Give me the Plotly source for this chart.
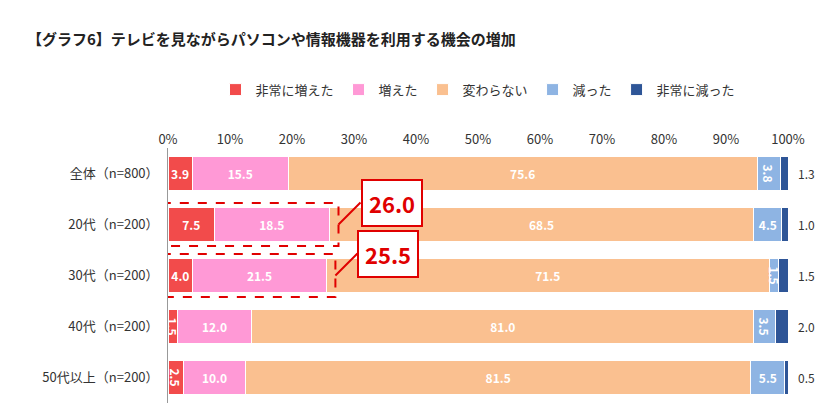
import plotly.graph_objects as go

categories = ["全体（n=800）", "20代（n=200）", "30代（n=200）", "40代（n=200）", "50代以上（n=200）"]
series_names = ["非常に増えた", "増えた", "変わらない", "減った", "非常に減った"]
very_inc = [3.9, 7.5, 4.0, 1.5, 2.5]
inc = [15.5, 18.5, 21.5, 12.0, 10.0]
same = [75.6, 68.5, 71.5, 81.0, 81.5]
dec = [3.8, 4.5, 1.5, 3.5, 5.5]
very_dec = [1.3, 1.0, 1.5, 2.0, 0.5]
callout_rows = ["20代（n=200）", "30代（n=200）"]
callout_vals = ["26.0", "25.5"]
tick_vals = [0, 10, 20, 30, 40, 50, 60, 70, 80, 90, 100]
tick_text = [f"{v}%" for v in tick_vals]

colors = ["#F24B4B", "#FF99D6", "#FAC090", "#8EB4E3", "#2E5597"]
data = [very_inc, inc, same, dec, very_dec]

fig = go.Figure()
for i, (name, vals) in enumerate(zip(series_names, data)):
    fig.add_trace(go.Bar(
        y=categories, x=vals, name=name, orientation="h",
        marker=dict(color=colors[i], line=dict(color="white", width=1)),
        text=[f"<b>{v:.1f}</b>" for v in vals] if i < 4 else None,
        textposition="inside", insidetextanchor="middle", constraintext="none",
        textfont=dict(color="white", size=12, family="Noto Sans CJK JP"),
        width=0.66, hoverinfo="skip", cliponaxis=False,
    ))

for c, v in zip(categories, very_dec):
    fig.add_annotation(x=100, y=c, text=f"{v:.1f}", showarrow=False,
                       xanchor="left", xshift=8, font=dict(size=12, color="#333"))

for c, t in zip(callout_rows, callout_vals):
    idx = categories.index(c)
    total = very_inc[idx] + inc[idx]
    fig.add_shape(type="rect", x0=-1, x1=total + 1.5, y0=idx - 0.42, y1=idx + 0.42,
                  line=dict(color="#E00000", width=2, dash="dash"))
    fig.add_annotation(x=total + 1.5, y=idx, ax=22, ay=-22, text=f"<b>{t}</b>",
                       showarrow=True, arrowhead=0, arrowcolor="#E00000", arrowwidth=2,
                       standoff=0, xanchor="left",
                       font=dict(size=22, color="#E00000"), bgcolor="white",
                       bordercolor="#E00000", borderwidth=2, borderpad=6)

fig.add_annotation(xref="paper", yref="paper", x=-0.23, y=1.0, yshift=122,
                   text="<b>【グラフ6】テレビを見ながらパソコンや情報機器を利用する機会の増加</b>",
                   showarrow=False, xanchor="left", yanchor="top",
                   font=dict(size=15, color="#222"))

fig.update_layout(
    width=826, height=413, barmode="stack", plot_bgcolor="white", paper_bgcolor="white",
    margin=dict(l=160, r=46, t=140, b=18),
    font=dict(family="Noto Sans CJK JP", size=13, color="#333"),
    legend=dict(orientation="h", x=0.5, xanchor="center", y=1.17, yanchor="bottom",
                font=dict(size=13), traceorder="normal"),
    showlegend=True,
)
fig.update_xaxes(range=[0, 100], side="top", tickvals=tick_vals, ticktext=tick_text,
                 showgrid=False, zeroline=False, showline=False, ticks="", fixedrange=True)
fig.update_yaxes(autorange="reversed", showline=True, linecolor="#999", ticks="",
                 ticksuffix="  ", showgrid=False)
fig.write_html("out.html")
